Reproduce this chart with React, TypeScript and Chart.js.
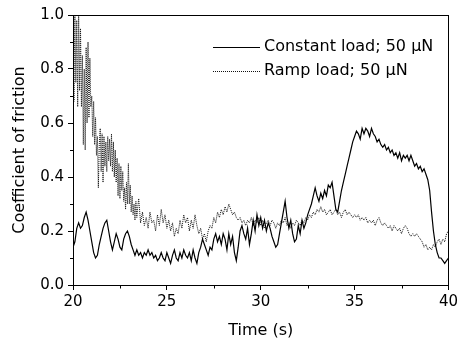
import React, { useEffect, useRef } from "react";
import { Chart, registerables } from "chart.js";

Chart.register(...registerables);

// ---- Data ----
const SERIES_NAMES = ["Constant load; 50 \u03bcN", "Ramp load; 50 \u03bcN"];
const X_TITLE = "Time (s)";
const Y_TITLE = "Coefficient of friction";
const TIME_START = 20;
const TIME_STEP = 0.1;
const RAMP_FINE_STEP = 0.05;
const RAMP_COARSE_START = 23.5;

// constant load: sampled every 0.1 s from 20 s to 40 s
const constantLoad = [
  0.14, 0.16, 0.21, 0.23, 0.21, 0.22, 0.25, 0.27, 0.24, 0.20,
  0.16, 0.12, 0.10, 0.11, 0.15, 0.18, 0.21, 0.23, 0.24, 0.20,
  0.16, 0.13, 0.16, 0.19, 0.17, 0.14, 0.13, 0.17, 0.19, 0.20,
  0.18, 0.15, 0.13, 0.11, 0.13, 0.11, 0.12, 0.10, 0.12, 0.11,
  0.13, 0.11, 0.12, 0.10, 0.11, 0.09, 0.10, 0.12, 0.10, 0.09,
  0.12, 0.10, 0.08, 0.11, 0.13, 0.10, 0.09, 0.12, 0.10, 0.13,
  0.11, 0.10, 0.12, 0.09, 0.13, 0.10, 0.08, 0.12, 0.14, 0.17,
  0.15, 0.13, 0.11, 0.14, 0.13, 0.17, 0.19, 0.16, 0.18, 0.15,
  0.19, 0.17, 0.13, 0.19, 0.15, 0.18, 0.12, 0.09, 0.14, 0.20,
  0.22, 0.19, 0.17, 0.21, 0.15, 0.19, 0.24, 0.20, 0.26, 0.22,
  0.25, 0.21, 0.24, 0.20, 0.23, 0.21, 0.18, 0.16, 0.14, 0.15,
  0.19, 0.23, 0.27, 0.31, 0.25, 0.21, 0.24, 0.19, 0.16, 0.17,
  0.22, 0.19, 0.24, 0.21, 0.23, 0.26, 0.28, 0.30, 0.33, 0.36,
  0.33, 0.31, 0.34, 0.32, 0.35, 0.33, 0.37, 0.36, 0.38, 0.33,
  0.28, 0.27, 0.31, 0.35, 0.38, 0.41, 0.44, 0.47, 0.50, 0.53,
  0.55, 0.57, 0.56, 0.54, 0.58, 0.56, 0.58, 0.57, 0.55, 0.58,
  0.56, 0.55, 0.53, 0.54, 0.52, 0.51, 0.52, 0.50, 0.51, 0.49,
  0.50, 0.48, 0.49, 0.47, 0.49, 0.46, 0.48, 0.47, 0.48, 0.46,
  0.48, 0.46, 0.44, 0.45, 0.43, 0.44, 0.42, 0.43, 0.41, 0.39,
  0.35, 0.27, 0.20, 0.15, 0.12, 0.10, 0.10, 0.09, 0.08, 0.09,
  0.10,
];

// ramp load: every 0.05 s from 20.00 s to 23.45 s
const rampLoadFine = [
  1.00, 0.68, 1.02, 0.75, 0.98, 0.66, 1.03, 0.72, 0.95, 0.66,
  0.85, 0.52, 0.80, 0.50, 0.88, 0.60, 0.90, 0.62, 0.84, 0.66,
  0.70, 0.55, 0.68, 0.52, 0.62, 0.48, 0.55, 0.36, 0.52, 0.58,
  0.42, 0.56, 0.38, 0.55, 0.44, 0.53, 0.42, 0.55, 0.46, 0.54,
  0.44, 0.56, 0.42, 0.53, 0.40, 0.50, 0.38, 0.47, 0.33, 0.45,
  0.32, 0.44, 0.35, 0.42, 0.31, 0.36, 0.28, 0.38, 0.30, 0.45,
  0.30, 0.37, 0.27, 0.33, 0.26, 0.30, 0.24, 0.31, 0.25, 0.29,
];

// ramp load: every 0.1 s from 23.5 s to 40 s
const rampLoad = [
  0.32, 0.23, 0.27, 0.22, 0.25,
  0.21, 0.27, 0.23, 0.24, 0.20, 0.26, 0.22, 0.28, 0.23, 0.26,
  0.21, 0.24, 0.20, 0.23, 0.18, 0.21, 0.19, 0.24, 0.21, 0.26,
  0.23, 0.25, 0.20, 0.24, 0.21, 0.26, 0.22, 0.19, 0.21, 0.17,
  0.19, 0.16, 0.20, 0.22, 0.21, 0.25, 0.23, 0.27, 0.25, 0.28,
  0.26, 0.29, 0.27, 0.30, 0.28, 0.26, 0.27, 0.25, 0.24, 0.25,
  0.23, 0.24, 0.22, 0.24, 0.23, 0.25, 0.22, 0.24, 0.23, 0.25,
  0.22, 0.24, 0.21, 0.23, 0.24, 0.22, 0.24, 0.23, 0.21, 0.23,
  0.22, 0.24, 0.23, 0.25, 0.22, 0.23, 0.21, 0.23, 0.22, 0.24,
  0.23, 0.22, 0.24, 0.23, 0.25, 0.24, 0.26, 0.25, 0.27, 0.26,
  0.28, 0.27, 0.29, 0.27, 0.28, 0.26, 0.27, 0.28, 0.26, 0.27,
  0.28, 0.26, 0.27, 0.25, 0.27, 0.28, 0.26, 0.27, 0.26, 0.25,
  0.26, 0.25, 0.26, 0.24, 0.25, 0.24, 0.25, 0.23, 0.24, 0.23,
  0.24, 0.22, 0.24, 0.25, 0.23, 0.22, 0.23, 0.22, 0.21, 0.22,
  0.20, 0.22, 0.21, 0.20, 0.21, 0.19, 0.21, 0.22, 0.21, 0.19,
  0.18, 0.19, 0.18, 0.19, 0.18, 0.17, 0.16, 0.14, 0.15, 0.13,
  0.14, 0.13, 0.15, 0.14, 0.16, 0.17, 0.15, 0.17, 0.16, 0.19,
  0.20,
];

const FONT = "'DejaVu Sans', 'Liberation Sans', Arial, sans-serif";

const toPoints = (vals: number[], start: number, step: number) =>
  vals.map((v, i) => ({ x: start + i * step, y: v }));

const framePlugin = {
  id: "frameAndMinor",
  afterDatasetsDraw(chart: any) {
    const { ctx, chartArea } = chart;
    const { left, right, top, bottom } = chartArea;
    ctx.save();
    ctx.strokeStyle = "#000";
    ctx.lineWidth = 1;
    ctx.strokeRect(Math.round(left) + 0.5, Math.round(top) + 0.5, Math.round(right - left), Math.round(bottom - top));
    const xs = chart.scales.x;
    const ys = chart.scales.y;
    ctx.beginPath();
    xs.ticks.forEach((t: any) => {
      if (Math.abs(t.value / 5 - Math.round(t.value / 5)) > 1e-6) {
        const px = Math.round(xs.getPixelForValue(t.value)) + 0.5;
        ctx.moveTo(px, Math.round(bottom) + 0.5);
        ctx.lineTo(px, Math.round(bottom) + 3.5);
      }
    });
    ys.ticks.forEach((t: any) => {
      if (Math.round(t.value * 10) % 2 !== 0) {
        const py = Math.round(ys.getPixelForValue(t.value)) + 0.5;
        ctx.moveTo(Math.round(left) + 0.5, py);
        ctx.lineTo(Math.round(left) - 3, py);
      }
    });
    ctx.stroke();
    ctx.restore();
  },
  afterDraw(chart: any) {
    const { ctx } = chart;
    const rows = [47, 71];
    ctx.save();
    chart.data.datasets.forEach((ds: any, i: number) => {
      const y = rows[i] + 0.5;
      ctx.beginPath();
      ctx.strokeStyle = ds.borderColor;
      ctx.lineWidth = ds.borderWidth;
      ctx.setLineDash(ds.borderDash || []);
      ctx.moveTo(213, y);
      ctx.lineTo(260, y);
      ctx.stroke();
      ctx.setLineDash([]);
      ctx.fillStyle = "#000";
      ctx.font = `16px ${FONT}`;
      ctx.textBaseline = "middle";
      ctx.textAlign = "left";
      ctx.fillText(ds.label, 264, rows[i]);
    });
    ctx.restore();
  },
};

export default function App() {
  const ref = useRef<HTMLCanvasElement | null>(null);
  useEffect(() => {
    document.body.style.margin = "0";
    const canvas = ref.current!;
    const chart = new Chart(canvas, {
      type: "line",
      data: {
        datasets: [
          {
            label: SERIES_NAMES[0],
            data: toPoints(constantLoad, TIME_START, TIME_STEP),
            borderColor: "#000",
            borderWidth: 1.2,
            pointRadius: 0,
            tension: 0,
          },
          {
            label: SERIES_NAMES[1],
            data: [
              ...toPoints(rampLoadFine, TIME_START, RAMP_FINE_STEP),
              ...toPoints(rampLoad, RAMP_COARSE_START, TIME_STEP),
            ],
            borderColor: "#111",
            borderWidth: 1,
            borderDash: [1, 1],
            pointRadius: 0,
            tension: 0,
          },
        ],
      },
      options: {
        animation: false,
        responsive: false,
        events: [],
        layout: { padding: { top: 15, right: 11, left: 0, bottom: 0 } },
        plugins: { legend: { display: false }, tooltip: { enabled: false } },
        scales: {
          x: {
            type: "linear",
            min: 20,
            max: 40,
            afterFit: (s: any) => { s.height = 62; },
            ticks: {
              stepSize: 2.5,
              autoSkip: false,
              maxRotation: 0,
              padding: 3,
              color: "#000",
              font: { family: FONT, size: 15 },
              callback: (v: any) => (Math.abs(v / 5 - Math.round(v / 5)) < 1e-6 ? String(Math.round(v)) : ""),
            },
            grid: {
              drawOnChartArea: false,
              drawTicks: true,
              tickLength: 5,
              tickColor: (c: any) => (c.tick && Math.abs(c.tick.value / 5 - Math.round(c.tick.value / 5)) < 1e-6 ? "#000" : "rgba(0,0,0,0)"),
            },
            border: { display: false },
            title: {
              display: true,
              text: X_TITLE,
              color: "#000",
              font: { family: FONT, size: 16 },
              padding: { top: 0, bottom: 7 },
            },
          },
          y: {
            type: "linear",
            min: 0,
            max: 1,
            afterFit: (s: any) => { s.width = 73; },
            ticks: {
              stepSize: 0.1,
              autoSkip: false,
              padding: 4,
              color: "#000",
              font: { family: FONT, size: 15 },
              callback: (v: any) => (Math.round(v * 10) % 2 === 0 ? Number(v).toFixed(1) : ""),
            },
            grid: {
              drawOnChartArea: false,
              drawTicks: true,
              tickLength: 5,
              tickColor: (c: any) => (c.tick && Math.round(c.tick.value * 10) % 2 === 0 ? "#000" : "rgba(0,0,0,0)"),
            },
            border: { display: false },
            title: {
              display: true,
              text: Y_TITLE,
              color: "#000",
              font: { family: FONT, size: 16 },
              padding: { top: 10, bottom: 0 },
            },
          },
        },
      },
      plugins: [framePlugin],
    });
    return () => chart.destroy();
  }, []);
  return (
    <div style={{ position: "absolute", left: 0, top: 0, width: 461, height: 347 }}>
      <canvas ref={ref} width={461} height={347} />
    </div>
  );
}
